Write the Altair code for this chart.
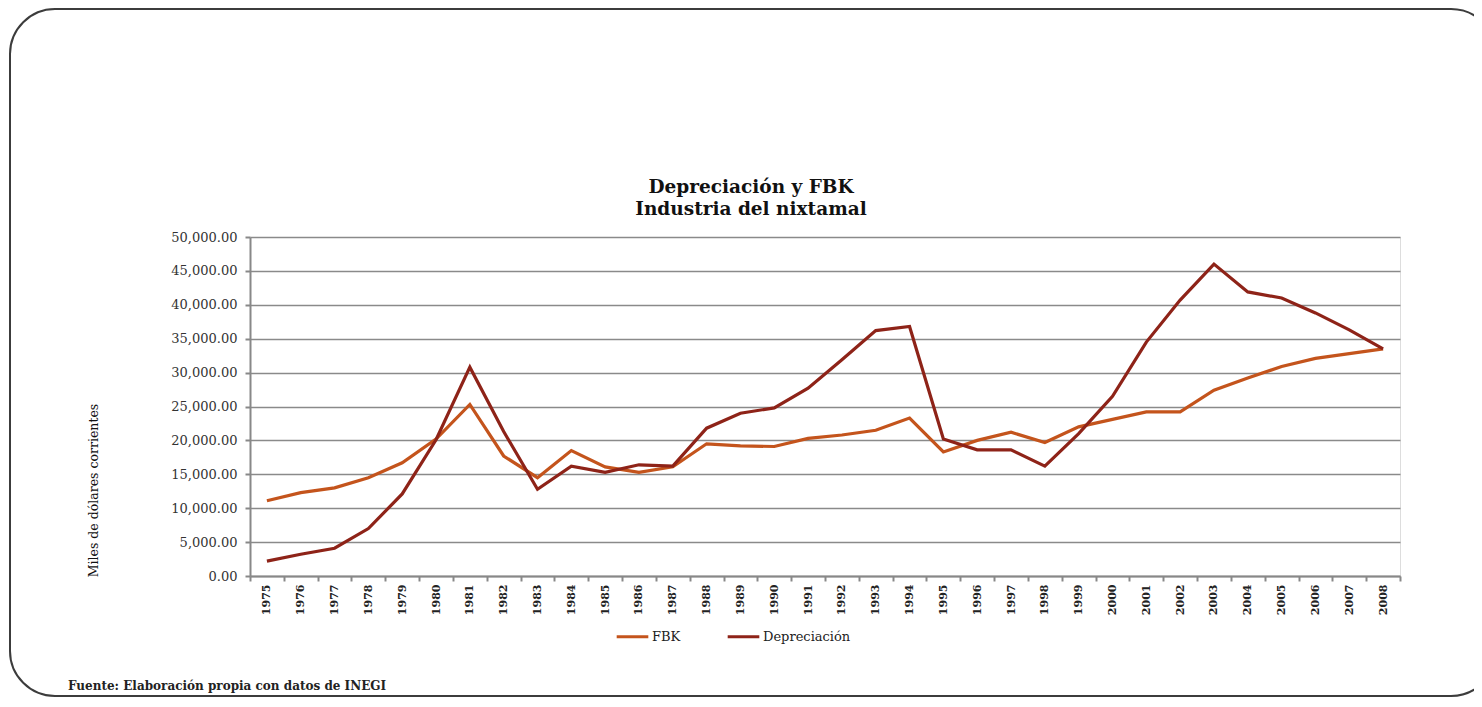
import altair as alt
import pandas as pd

years = [str(y) for y in range(1975, 2009)]
fbk = [11100, 12300, 13000, 14500, 16700, 20200, 25300, 17700, 14500, 18500,
       16100, 15300, 16100, 19500, 19200, 19100, 20300, 20800, 21500, 23300,
       18300, 20000, 21200, 19700, 22000, 23100, 24200, 24200, 27400, 29200,
       30900, 32100, 32800, 33500]
dep = [2200, 3200, 4100, 7000, 12100, 20100, 30800, 21300, 12800, 16200,
       15300, 16400, 16200, 21800, 24000, 24800, 27700, 31900, 36200, 36800,
       20200, 18600, 18600, 16200, 21000, 26500, 34500, 40700, 46000, 41900,
       41000, 38800, 36300, 33500]
series_names = ["FBK", "Depreciación"]
series_colors = ["#C4541C", "#8E2318"]
y_ticks = [0, 5000, 10000, 15000, 20000, 25000, 30000, 35000, 40000, 45000, 50000]
title_lines = ["Depreciación y FBK", "Industria del nixtamal"]
y_title = "Miles de dólares corrientes"
footer = "Fuente:  Elaboración propia con datos de INEGI"

rows = []
for i, yr in enumerate(years):
    rows.append({"Año": yr, "Serie": series_names[0], "Valor": fbk[i]})
    rows.append({"Año": yr, "Serie": series_names[1], "Valor": dep[i]})
df = pd.DataFrame(rows)

FONT = "DejaVu Serif"
W, H = 1150, 339

lines = alt.Chart(df).mark_line(strokeWidth=3.2).encode(
    x=alt.X("Año:O", sort=years,
            scale=alt.Scale(type="band", paddingInner=0, paddingOuter=0),
            axis=alt.Axis(title=None, labelAngle=270, tickBand="extent",
                          labelFont=FONT, labelFontSize=11, labelFontWeight="bold",
                          labelColor="#222", labelPadding=3,
                          domainColor="#888", domainWidth=2,
                          tickColor="#888", tickWidth=2, tickSize=5,
                          grid=False)),
    y=alt.Y("Valor:Q",
            scale=alt.Scale(domain=[0, 50000], nice=False),
            axis=alt.Axis(title=y_title, values=y_ticks, format=",.2f",
                          labelFont=FONT, labelFontSize=13, labelColor="#333",
                          labelPadding=8,
                          titleFont=FONT, titleFontSize=12.5, titleFontWeight="normal",
                          titleColor="#111", titleAngle=270,
                          titleX=-157, titleY=253, titleAlign="center",
                          titleBaseline="middle",
                          domainColor="#888", domainWidth=2,
                          tickColor="#888", tickWidth=2, tickSize=5,
                          grid=True, gridColor="#8a8a8a", gridWidth=1.6)),
    color=alt.Color("Serie:N",
                    scale=alt.Scale(domain=series_names, range=series_colors),
                    legend=alt.Legend(title=None, orient="none", direction="horizontal",
                                      legendX=365, legendY=382,
                                      symbolType="stroke", symbolSize=1000,
                                      symbolStrokeWidth=3, columnPadding=40,
                                      labelFont=FONT, labelFontSize=13,
                                      labelColor="#222", labelOffset=2)),
    order=alt.Order("Serie:N"),
)

frame = alt.Chart(pd.DataFrame({"k": [0]})).mark_rect(
    filled=False, stroke="#3c3c3c", strokeWidth=2, cornerRadius=45, clip=False
).encode(
    x=alt.value(-240), x2=alt.value(1246),
    y=alt.value(-228), y2=alt.value(459),
)

title_df = pd.DataFrame({"t": title_lines, "i": [0, 1]})
title = alt.Chart(title_df).mark_text(
    align="center", baseline="middle", font=FONT, fontSize=18.5,
    fontWeight="bold", color="#111", clip=False
).encode(
    text="t:N",
    x=alt.value(501),
    y=alt.Y("i:O", scale=alt.Scale(type="point", range=[-50, -28], padding=0),
            axis=None),
)

foot = alt.Chart(pd.DataFrame({"t": [footer]})).mark_text(
    align="left", baseline="alphabetic", font=FONT, fontSize=12,
    fontWeight="bold", color="#222", clip=False
).encode(
    text="t:N", x=alt.value(-182), y=alt.value(453),
)

chart = alt.layer(frame, lines, title, foot).resolve_scale(y="independent").properties(
    width=W, height=H,
    padding={"left": 242, "top": 229, "right": 74, "bottom": 123},
    autosize=alt.AutoSizeParams(type="none"),
).configure_view(stroke=None).configure(background="white")

chart.save("out.html", embed_options={"renderer": "svg", "actions": False})
